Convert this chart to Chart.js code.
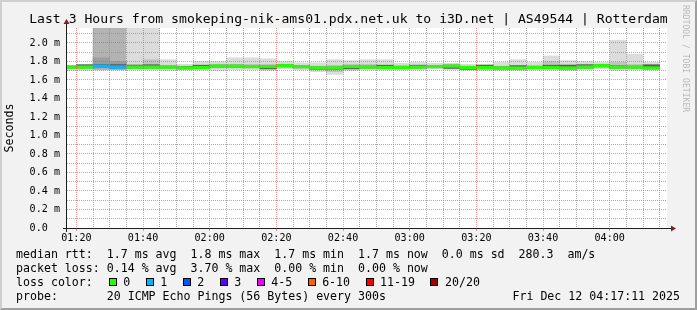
<!DOCTYPE html>
<html><head><meta charset="utf-8">
<script src="https://cdn.jsdelivr.net/npm/chart.js@4/dist/chart.umd.min.js"></script>
<style>
html,body{margin:0;padding:0;background:#f2f2f2;}
#wrap{position:relative;width:697px;height:310px;overflow:hidden;background:#f2f2f2;font-family:"DejaVu Sans Mono",monospace;color:#000;}
#frame{position:absolute;left:0;top:0;width:697px;height:310px;box-sizing:border-box;border-style:solid;border-width:2px;border-color:#cfcfcf #9e9e9e #9e9e9e #cfcfcf;pointer-events:none;}
#c{position:absolute;left:0;top:0;}
.t{position:absolute;white-space:pre;font-size:11.6px;line-height:14px;}
#title{position:absolute;left:0;width:697px;top:11px;text-align:center;white-space:pre;font-size:13.1px;line-height:16px;}
#wm{position:absolute;left:680px;top:5px;white-space:pre;font-size:8.1px;line-height:10px;color:#b9b9b9;transform-origin:0 0;transform:translate(11px,0) rotate(90deg);}
.lc{display:flex;align-items:center;}
.it{display:flex;align-items:center;margin-right:13.5px;}
.bx{display:inline-block;width:8px;height:8px;box-sizing:border-box;border:1px solid #000;margin-left:2px;margin-right:6.5px;}
</style></head>
<body>
<div id="wrap">
  <canvas id="c" width="697" height="310"></canvas>
  <div id="title"></div>
  <div id="wm">RRDTOOL / TOBI OETIKER</div>
  <div class="t" style="left:16px;top:247px" id="l1"></div>
  <div class="t" style="left:16px;top:261px" id="l2"></div>
  <div class="t lc" style="left:16px;top:275px" id="l3"></div>
  <div class="t" style="left:16px;top:289px" id="l4"></div>
  <div class="t" style="right:17px;top:289px" id="l5"></div>
  <div id="frame"></div>
</div>
<script>
// ---------- data ----------
const chartTitle = 'Last 3 Hours from smokeping-nik-ams01.pdx.net.uk to i3D.net | AS49544 | Rotterdam';
const yAxisTitle = 'Seconds';
const windowStart = '01:17:11';
const windowEnd = '04:17:11';
const stepMinutes = 5;

const intervalStart = ['01:15','01:20','01:25','01:30','01:35','01:40','01:45','01:50','01:55',
  '02:00','02:05','02:10','02:15','02:20','02:25','02:30','02:35','02:40','02:45','02:50','02:55',
  '03:00','03:05','03:10','03:15','03:20','03:25','03:30','03:35','03:40','03:45','03:50','03:55',
  '04:00','04:05','04:10'];

// values in milliseconds
const medianRtt = [1.74,1.74,1.75,1.74,1.74,1.74,1.74,1.73,1.735,1.75,1.75,1.745,1.745,1.755,1.745,1.73,1.73,1.745,
  1.74,1.735,1.735,1.74,1.745,1.75,1.735,1.735,1.73,1.73,1.735,1.735,1.73,1.74,1.755,1.74,1.74,1.73];
const smokeMax = [1.76,1.77,2.25,2.25,2.25,2.25,1.82,1.77,1.80,1.80,1.84,1.84,1.83,1.80,1.785,1.785,1.82,1.81,
  1.82,1.82,1.78,1.79,1.78,1.78,1.77,1.77,1.79,1.82,1.79,1.86,1.81,1.80,1.79,2.03,1.88,1.79];
const smokeMin = [1.70,1.70,1.71,1.71,1.71,1.71,1.70,1.71,1.71,1.70,1.71,1.71,1.70,1.72,1.71,1.69,1.66,1.70,
  1.71,1.71,1.71,1.71,1.72,1.71,1.71,1.70,1.70,1.70,1.71,1.71,1.70,1.71,1.72,1.70,1.71,1.71];
const midHigh = [1.75,1.76,1.84,1.80,1.77,1.82,1.76,1.75,1.76,1.77,1.77,1.77,1.77,1.77,1.76,1.75,1.76,1.77,
  1.77,1.76,1.76,1.76,1.76,1.77,1.75,1.76,1.75,1.76,1.76,1.80,1.77,1.77,1.77,1.79,1.77,1.76];
const midLow = [1.72,1.72,1.73,1.72,1.72,1.72,1.72,1.72,1.72,1.73,1.73,1.73,1.72,1.73,1.72,1.71,1.69,1.72,
  1.72,1.72,1.72,1.72,1.73,1.73,1.72,1.71,1.71,1.71,1.72,1.72,1.71,1.72,1.73,1.72,1.72,1.72];
const coreHigh = [1.75,1.765,1.77,1.77,1.76,1.765,1.75,1.745,1.76,1.76,1.76,1.755,1.755,1.765,1.755,1.74,1.74,1.755,
  1.75,1.76,1.745,1.76,1.755,1.76,1.745,1.76,1.74,1.755,1.745,1.76,1.76,1.765,1.765,1.755,1.75,1.765];
const coreLow = [1.73,1.73,1.74,1.73,1.73,1.73,1.73,1.72,1.725,1.74,1.74,1.735,1.72,1.745,1.735,1.715,1.715,1.72,
  1.73,1.725,1.725,1.73,1.735,1.725,1.715,1.725,1.72,1.72,1.725,1.725,1.72,1.73,1.745,1.73,1.73,1.72];
const lostPings = [0,0,1,1,0,0,0,0,0,0,0,0,0,0,0,0,0,0,0,0,0,0,0,0,0,0,0,0,0,0,0,0,0,0,0,0];

const xTickMinutes = ['01:20','01:40','02:00','02:20','02:40','03:00','03:20','03:40','04:00'];
const xTickLabels = ['01:20','01:40','02:00','02:20','02:40','03:00','03:20','03:40','04:00'];
const yTickValues = [0,0.2,0.4,0.6,0.8,1.0,1.2,1.4,1.6,1.8,2.0];
const yTickLabels = ['0.0  ','0.2 m','0.4 m','0.6 m','0.8 m','1.0 m','1.2 m','1.4 m','1.6 m','1.8 m','2.0 m'];
const yMax = 2.162;

const lossLabels = ['0','1','2','3','4-5','6-10','11-19','20/20'];
const lossColors = ['#26ff00','#00b8ff','#0059ff','#5e00ff','#ee00ff','#ff5e00','#ff0000','#a00000'];

const statsLines = [
  'median rtt:  1.7 ms avg  1.8 ms max  1.7 ms min  1.7 ms now  0.0 ms sd  280.3  am/s',
  'packet loss: 0.14 % avg  3.70 % max  0.00 % min  0.00 % now'
];
const probeText = 'probe:       20 ICMP Echo Pings (56 Bytes) every 300s';
const stampText = 'Fri Dec 12 04:17:11 2025';

// ---------- text ----------
document.getElementById('title').textContent = chartTitle;
document.getElementById('l1').textContent = statsLines[0];
document.getElementById('l2').textContent = statsLines[1];
document.getElementById('l4').textContent = probeText;
document.getElementById('l5').textContent = stampText;
const l3 = document.getElementById('l3');
const lab = document.createElement('span'); lab.textContent = 'loss color:  '; lab.style.whiteSpace='pre'; l3.appendChild(lab);
lossLabels.forEach((t,i)=>{
  const it = document.createElement('span'); it.className='it';
  const b = document.createElement('span'); b.className='bx'; b.style.background = lossColors[i];
  const s = document.createElement('span'); s.textContent = t;
  it.appendChild(b); it.appendChild(s); l3.appendChild(it);
});

// ---------- chart ----------
const toMin = s => { const p = s.split(':').map(Number); return p[0]*60 + p[1] + (p[2]||0)/60; };
const centers = intervalStart.map(t => toMin(t) + stepMinutes/2);
const xMajor = xTickMinutes.map(toMin);
const lossIdx = n => n===0?0:n===1?1:n===2?2:n===3?3:n<=5?4:n<=10?5:n<=19?6:7;
const medHalf = 0.0135;

const range = (lo, hi) => centers.map((x,i)=>({x, y:[lo[i], hi[i]]}));

const common = {borderWidth:0, barPercentage:1, categoryPercentage:1, grouped:false};

const bgPlugin = {
  id:'bg',
  beforeDraw(chart){
    const {ctx, chartArea:a} = chart;
    ctx.save(); ctx.fillStyle = '#ffffff';
    ctx.fillRect(a.left, a.top, a.right-a.left, a.bottom-a.top);
    ctx.restore();
  },
  afterDraw(chart){
    const {ctx, chartArea:a} = chart;
    ctx.save();
    ctx.strokeStyle = '#1f1f1f'; ctx.lineWidth = 1;
    const yb = Math.round(a.bottom) + 0.5, xl = Math.round(a.left) - 0.5;
    ctx.beginPath(); ctx.moveTo(a.left-4, yb); ctx.lineTo(a.right+4, yb); ctx.stroke();
    ctx.beginPath(); ctx.moveTo(xl, a.bottom+4); ctx.lineTo(xl, a.top-4); ctx.stroke();
    ctx.fillStyle = '#801f1f';
    ctx.beginPath(); ctx.moveTo(a.right+4, yb-3); ctx.lineTo(a.right+4, yb+3); ctx.lineTo(a.right+9, yb); ctx.closePath(); ctx.fill();
    ctx.beginPath(); ctx.moveTo(xl-3, a.top-4); ctx.lineTo(xl+3, a.top-4); ctx.lineTo(xl, a.top-9); ctx.closePath(); ctx.fill();
    ctx.restore();
  }
};

const isMajorX = v => xMajor.some(m => Math.abs(m - v) < 1e-6);
const isMajorY = v => yTickValues.some(m => Math.abs(m - v) < 1e-6);
const gridGray = 'rgba(143,143,143,0.75)';
const gridRed = 'rgba(222,79,79,0.6)';

new Chart(document.getElementById('c'), {
  type:'bar',
  data:{
    datasets:[
      {label:'median', data: centers.map((x,i)=>({x, y:[medianRtt[i]-medHalf, medianRtt[i]+medHalf]})),
        backgroundColor: ctx => lossColors[lossIdx(lostPings[ctx.dataIndex])], order:0, ...common},
      {label:'core', data: range(coreLow, coreHigh),
        backgroundColor: ctx => lostPings[ctx.dataIndex] > 0 ? '#6a6a6a' : '#5c5c5c', order:1, ...common},
      {label:'mid', data: range(midLow, midHigh),
        backgroundColor: ctx => lostPings[ctx.dataIndex] > 0 ? '#9e9e9e' : '#c2c2c2', order:2, ...common},
      {label:'outer', data: range(smokeMin, smokeMax),
        backgroundColor: ctx => lostPings[ctx.dataIndex] > 0 ? '#b3b3b3' : '#dcdcdc', order:3, ...common}
    ]
  },
  options:{
    responsive:false, animation:false,
    layout:{padding:{left:0, top:28, right:30, bottom:62}},
    plugins:{legend:{display:false}, tooltip:{enabled:false}, title:{display:false}},
    scales:{
      x:{
        type:'linear', offset:false,
        min: toMin(windowStart), max: toMin(windowEnd),
        afterBuildTicks: s => {
          const t = [];
          for (let v = toMin(intervalStart[1]); v < toMin(windowEnd); v += stepMinutes) t.push({value:v});
          s.ticks = t;
        },
        afterFit: s => { s.height = 20; },
        ticks:{autoSkip:false, maxRotation:0, minRotation:0, padding:1, color:'#000',
          font:{family:'DejaVu Sans Mono', size:10.1},
          callback: v => { const i = xMajor.findIndex(m => Math.abs(m - v) < 1e-6); return i >= 0 ? xTickLabels[i] : ''; }},
        grid:{offset:false, z:1, lineWidth:1,
          color: c => (c.tick && isMajorX(c.tick.value)) ? gridRed : gridGray,
          drawTicks:true, tickLength:3, tickBorderDash:[],
          tickColor: c => (c.tick && isMajorX(c.tick.value)) ? gridRed : 'rgba(0,0,0,0)'},
        border:{display:false, dash:[1,1]}
      },
      y:{
        type:'linear', min:0, max:yMax, beginAtZero:true,
        afterBuildTicks: s => {
          const t = [];
          for (let k = 0; k <= 21; k++) t.push({value: Math.round(k*10)/100});
          s.ticks = t;
        },
        afterFit: s => { s.width = 67; },
        ticks:{autoSkip:false, padding:7, color:'#000', font:{family:'DejaVu Sans Mono', size:10.1},
          callback: v => { const i = yTickValues.findIndex(m => Math.abs(m - v) < 1e-6); return i >= 0 ? yTickLabels[i] : ''; }},
        grid:{z:1, lineWidth:1, drawTicks:false,
          color: c => (c.tick && isMajorY(c.tick.value)) ? gridRed : gridGray},
        border:{display:false, dash:[1,1]},
        title:{display:true, text:yAxisTitle, color:'#000', font:{family:'DejaVu Sans Mono', size:11.6}, padding:{top:3.5, bottom:0}}
      }
    }
  },
  plugins:[bgPlugin]
});
</script>
</body></html>
